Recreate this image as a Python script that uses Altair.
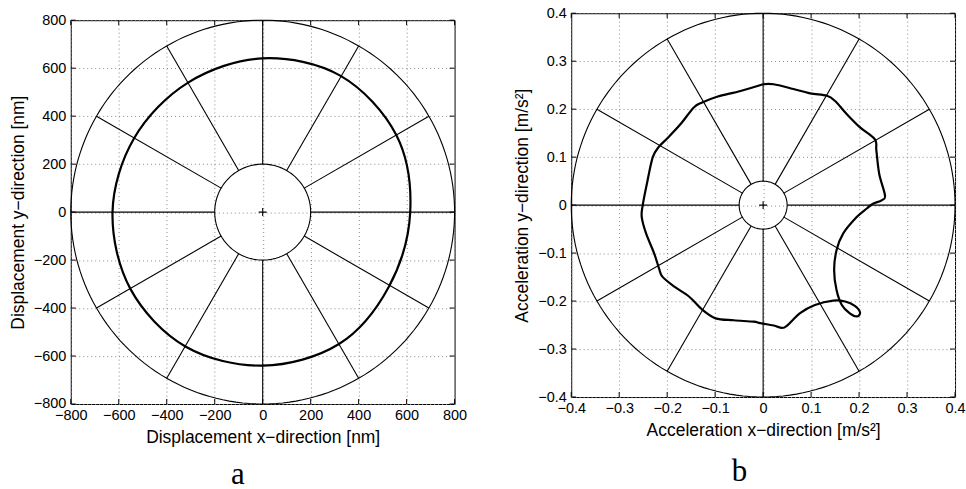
import numpy as np
import pandas as pd
import altair as alt

# ---- panel a: displacement orbit [nm] ----
disp_x = [615, 557, 325, 0, -311, -536, -626, -551, -322, 0, 318, 526]
disp_y = [0, 321, 568, 641, 540, 308, 0, -321, -560, -640, -550, -311]
disp_ticks = [-800, -600, -400, -200, 0, 200, 400, 600, 800]
disp_rings = [200, 800]

# ---- panel b: acceleration orbit [m/s^2] ----
acc_x = [0.000, 0.022, 0.063, 0.098, 0.133, 0.150, 0.174, 0.202, 0.233, 0.236,
         0.242, 0.254, 0.247, 0.229, 0.216, 0.195, 0.167, 0.153, 0.148, 0.153,
         0.164, 0.180, 0.195, 0.202, 0.191, 0.171, 0.146, 0.108, 0.077, 0.050,
         0.039, 0.022, -0.006, -0.020, -0.061, -0.099, -0.127, -0.154, -0.185,
         -0.210, -0.217, -0.227, -0.244, -0.253, -0.251, -0.241, -0.230, -0.217,
         -0.199, -0.172, -0.144, -0.127, -0.096, -0.047, 0.000]
acc_y = [0.252, 0.252, 0.242, 0.233, 0.228, 0.217, 0.190, 0.162, 0.137, 0.114,
         0.065, 0.020, 0.010, 0.003, -0.007, -0.025, -0.059, -0.094, -0.135, -0.177,
         -0.208, -0.225, -0.232, -0.224, -0.210, -0.201, -0.199, -0.208, -0.225, -0.251,
         -0.256, -0.251, -0.246, -0.243, -0.240, -0.236, -0.218, -0.191, -0.170,
         -0.149, -0.132, -0.101, -0.059, -0.025, 0.000, 0.051, 0.100, 0.122,
         0.140, 0.169, 0.204, 0.214, 0.226, 0.238, 0.252]
acc_ticks = [-0.4, -0.3, -0.2, -0.1, 0, 0.1, 0.2, 0.3, 0.4]
acc_rings = [0.05, 0.4]

spoke_angles = list(range(0, 360, 30))

W = 385
H = 385
TICK = 5


def polar_panel(cx, cy, ticks, rings, fmt, xtitle, ytitle, interp, caption, cap_offset):
    lo, hi = ticks[0], ticks[-1]
    sx = alt.Scale(domain=[lo, hi], nice=False, zero=False)
    sy = alt.Scale(domain=[lo, hi], nice=False, zero=False)
    ax = alt.Axis(values=ticks, format=fmt, title=xtitle, grid=True)
    ay = alt.Axis(values=ticks, format=fmt, title=ytitle, grid=True)

    def X(f):
        return alt.X(f, type="quantitative", scale=sx, axis=ax)

    def Y(f):
        return alt.Y(f, type="quantitative", scale=sy, axis=ay)

    # polar reference circles
    phi = np.radians(np.arange(0, 361, 2))
    rows = []
    for k, r in enumerate(rings):
        for j, p in enumerate(phi):
            rows.append({"ring": k, "j": j, "x": r * np.cos(p), "y": r * np.sin(p)})
    rings_df = pd.DataFrame(rows)

    # radial spokes between the inner and outer ring
    a = np.radians(spoke_angles)
    spokes_df = pd.DataFrame({
        "x": rings[0] * np.cos(a), "y": rings[0] * np.sin(a),
        "x2": rings[1] * np.cos(a), "y2": rings[1] * np.sin(a),
    })

    curve_df = pd.DataFrame({"i": range(len(cx)), "x": cx, "y": cy})
    centre_df = pd.DataFrame({"x": [0], "y": [0]})
    ticks_df = pd.DataFrame({"t": ticks})

    circles = alt.Chart(rings_df).mark_line(color="black", strokeWidth=1.1).encode(
        x=X("x"), y=Y("y"), detail="ring:N", order="j:Q")
    spokes = alt.Chart(spokes_df).mark_rule(color="black", strokeWidth=1.1).encode(
        x=X("x"), y=Y("y"), x2="x2", y2="y2")
    curve = alt.Chart(curve_df).mark_line(
        color="black", strokeWidth=2.2, interpolate=interp).encode(
        x=X("x"), y=Y("y"), order="i:Q")
    centre = alt.Chart(centre_df).mark_point(
        shape="M-1,0L1,0M0,-1L0,1", size=64, filled=False,
        color="black", strokeWidth=1.1, opacity=1).encode(x=X("x"), y=Y("y"))

    # inward tick marks on all four sides of the box
    tick_style = dict(color="black", strokeWidth=1)
    tb = alt.Chart(ticks_df).mark_rule(**tick_style).encode(
        x=X("t"), y=alt.value(H), y2=alt.value(H - TICK))
    tt = alt.Chart(ticks_df).mark_rule(**tick_style).encode(
        x=X("t"), y=alt.value(0), y2=alt.value(TICK))
    tl = alt.Chart(ticks_df).mark_rule(**tick_style).encode(
        y=Y("t"), x=alt.value(0), x2=alt.value(TICK))
    tr = alt.Chart(ticks_df).mark_rule(**tick_style).encode(
        y=Y("t"), x=alt.value(W), x2=alt.value(W - TICK))

    return alt.layer(circles, spokes, curve, centre, tb, tt, tl, tr).properties(
        width=W, height=H,
        title=alt.TitleParams(caption, orient="bottom", anchor="middle",
                              frame="bounds", font="Liberation Serif",
                              fontSize=31, fontWeight="normal", color="black",
                              offset=cap_offset),
    )


def strip(h):
    # invisible strip used to set a panel's vertical start
    return alt.Chart(pd.DataFrame({"v": [0]})).mark_rule(opacity=0).encode(
        x=alt.value(0), y=alt.value(0), y2=alt.value(1)
    ).properties(width=W, height=h, view=alt.ViewBackground(strokeOpacity=0))


panel_a = polar_panel(disp_x, disp_y, disp_ticks, disp_rings, "d",
                      "Displacement x\u2212direction [nm]",
                      "Displacement y\u2212direction [nm]",
                      "cardinal-closed", "a", 14)
panel_b = polar_panel(acc_x, acc_y, acc_ticks, acc_rings, "~g",
                      "Acceleration x\u2212direction [m/s\u00b2]",
                      "Acceleration y\u2212direction [m/s\u00b2]",
                      "cardinal", "b", 18)

left = alt.vconcat(strip(7.5), panel_a, spacing=0)
right = alt.vconcat(strip(1), panel_b, spacing=0)

chart = alt.hconcat(left, right, spacing=45).properties(
    padding={"left": 8, "top": 2.5, "right": 0, "bottom": 0},
    background="white",
).configure_view(
    stroke="black", strokeWidth=1
).configure_axis(
    labelFont="Liberation Sans", labelFontSize=14.5, labelColor="black",
    titleFont="Liberation Sans", titleFontSize=17.5, titleFontWeight="normal",
    titleColor="black", domain=False, ticks=False,
    gridColor="#8a8a8a", gridDash=[1, 3], gridWidth=1,
    labelFlush=False, labelPadding=5, titlePadding=6,
)

chart.save("out.html", embed_options={"renderer": "svg", "actions": False})
